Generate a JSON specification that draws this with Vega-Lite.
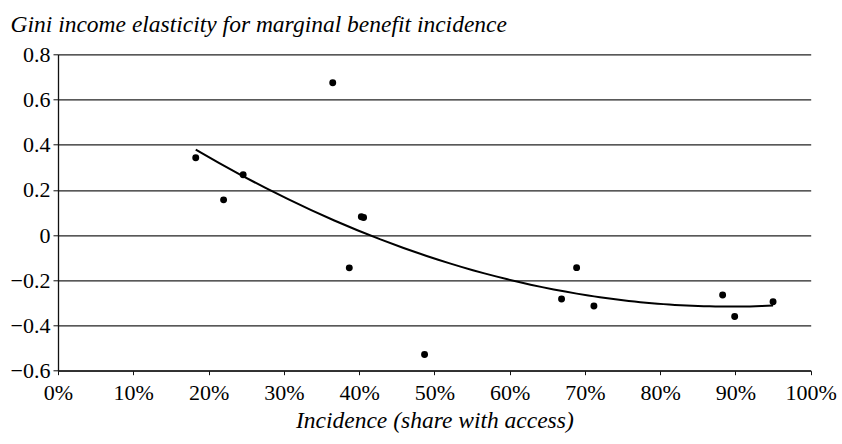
{
  "$schema": "https://vega.github.io/schema/vega-lite/v6.json",
  "autosize": "none",
  "width": 752.7,
  "height": 316.4,
  "padding": {"left": 58, "top": 54.3, "right": 31.3, "bottom": 73.3},
  "background": "white",
  "config": {
    "view": {"stroke": null},
    "font": "'Liberation Serif', 'Times New Roman', serif",
    "axis": {
      "labelFont": "'Liberation Serif', 'Times New Roman', serif",
      "titleFont": "'Liberation Serif', 'Times New Roman', serif",
      "labelColor": "black",
      "titleColor": "black",
      "labelFontSize": 22,
      "titleFontSize": 23.5,
      "titleFontWeight": "normal",
      "titleFontStyle": "italic",
      "domainColor": "#111",
      "domainWidth": 1.3,
      "tickColor": "#111",
      "gridColor": "#222",
      "gridOpacity": 1,
      "gridWidth": 1.2
    }
  },
  "data": {
    "values": [
      {"incidence": 0.183, "elasticity": 0.342},
      {"incidence": 0.220, "elasticity": 0.156},
      {"incidence": 0.246, "elasticity": 0.267},
      {"incidence": 0.365, "elasticity": 0.674},
      {"incidence": 0.403, "elasticity": 0.081},
      {"incidence": 0.406, "elasticity": 0.078},
      {"incidence": 0.387, "elasticity": -0.145},
      {"incidence": 0.487, "elasticity": -0.528},
      {"incidence": 0.689, "elasticity": -0.144},
      {"incidence": 0.669, "elasticity": -0.283},
      {"incidence": 0.712, "elasticity": -0.314},
      {"incidence": 0.883, "elasticity": -0.265},
      {"incidence": 0.899, "elasticity": -0.360},
      {"incidence": 0.950, "elasticity": -0.295}
    ]
  },
  "encoding": {
    "x": {
      "field": "incidence",
      "type": "quantitative",
      "scale": {"domain": [0, 1], "nice": false, "zero": false},
      "axis": {
        "title": "Incidence (share with access)",
        "format": ".0%",
        "values": [0, 0.1, 0.2, 0.3, 0.4, 0.5, 0.6, 0.7, 0.8, 0.9, 1],
        "grid": false,
        "tickSize": 4,
        "labelPadding": 8,
        "titlePadding": 5,
        "labelFlush": false,
        "labelOverlap": false
      }
    },
    "y": {
      "field": "elasticity",
      "type": "quantitative",
      "scale": {"domain": [-0.6, 0.8], "nice": false, "zero": false},
      "axis": {
        "title": "Gini income elasticity for marginal benefit incidence",
        "titleAngle": 0,
        "titleAlign": "left",
        "titleBaseline": "alphabetic",
        "titleX": -48,
        "titleY": -22.6,
        "values": [-0.6, -0.4, -0.2, 0, 0.2, 0.4, 0.6, 0.8],
        "labelExpr": "datum.value == 0 ? '0' : format(datum.value, '.1f')",
        "tickSize": 5,
        "labelPadding": 3,
        "grid": true,
        "labelFlush": false,
        "labelOverlap": false
      }
    }
  },
  "layer": [
    {
      "mark": {"type": "circle", "color": "black", "opacity": 1, "size": 48}
    },
    {
      "transform": [
        {"regression": "elasticity", "on": "incidence", "method": "poly", "order": 2}
      ],
      "mark": {"type": "line", "color": "black", "strokeWidth": 2}
    }
  ]
}
